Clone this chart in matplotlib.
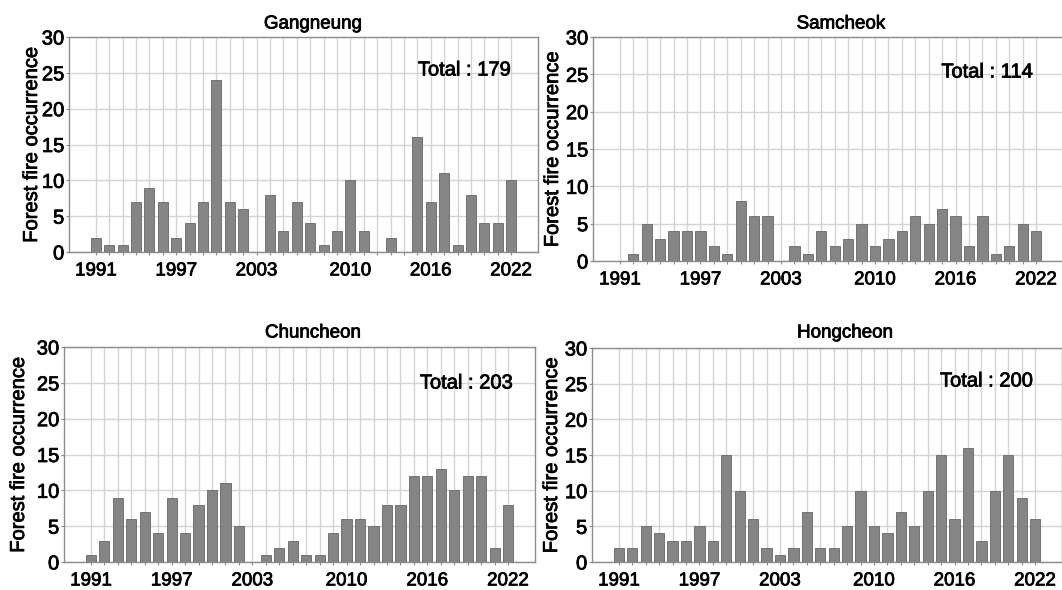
import matplotlib
matplotlib.use("Agg")
import matplotlib.pyplot as plt
import matplotlib.patheffects as pe
from matplotlib.ticker import FixedLocator, FuncFormatter

# ---- data ----
years = list(range(1991, 2023))
gangneung = [2, 1, 1, 7, 9, 7, 2, 4, 7, 24, 7, 6, 0, 8, 3, 7, 4, 1, 3, 10,
             3, 0, 2, 0, 16, 7, 11, 1, 8, 4, 4, 10]
samcheok = [0, 1, 5, 3, 4, 4, 4, 2, 1, 8, 6, 6, 0, 2, 1, 4, 2, 3, 5, 2,
            3, 4, 6, 5, 7, 6, 2, 6, 1, 2, 5, 4]
chuncheon = [1, 3, 9, 6, 7, 4, 9, 4, 8, 10, 11, 5, 0, 1, 2, 3, 1, 1, 4, 6,
             6, 5, 8, 8, 12, 12, 13, 10, 12, 12, 2, 8]
hongcheon = [2, 2, 5, 4, 3, 3, 5, 3, 15, 10, 6, 2, 1, 2, 7, 2, 2, 5, 10, 5,
             4, 7, 5, 10, 15, 6, 16, 3, 10, 15, 9, 6]
titles = ["Gangneung", "Samcheok", "Chuncheon", "Hongcheon"]
labeled_years = [1991, 1997, 2003, 2010, 2016, 2022]
yticks = [0, 5, 10, 15, 20, 25, 30]
ylabel = "Forest fire occurrence"

series = [gangneung, samcheok, chuncheon, hongcheon]

W, H = 1062, 590
plt.rcParams['font.family'] = ['Liberation Sans', 'DejaVu Sans']
fig = plt.figure(figsize=(W / 100, H / 100), dpi=100)

stroke = [pe.withStroke(linewidth=0.55, foreground='black')]

def px_rect(l, r, t, b):
    return [l / W, (H - b) / H, (r - l) / W, (b - t) / H]

rects = [px_rect(69, 538, 37, 252), px_rect(593, 1063, 37, 261),
         px_rect(64, 535, 347, 562), px_rect(592, 1062, 348, 562)]
title_pos = [(313, 24), (841, 24), (313, 333), (845, 333)]
total_pos = [(511, 70), (1033, 72), (513, 383), (1033, 381)]
ylabel_x = [41, 562, 28, 561]

spine_c = '#8c8c8c'
grid_c = '#d4d4d4'

for i, vals in enumerate(series):
    ax = fig.add_axes(rects[i])
    ax.bar(years, vals, width=0.76, color='#858585', edgecolor='#737373',
           linewidth=0.7, zorder=3)
    ax.set_xlim(1989, 2024)
    ax.set_ylim(0, 30)
    ax.xaxis.set_major_locator(FixedLocator(years))
    ax.xaxis.set_major_formatter(FuncFormatter(
        lambda v, p: str(int(round(v))) if int(round(v)) in labeled_years else ""))
    ax.set_yticks(yticks)
    ax.grid(True, color=grid_c, linewidth=1.0, zorder=0)
    ax.set_axisbelow(True)
    for s in ax.spines.values():
        s.set_color(spine_c)
        s.set_linewidth(1.0)
    ax.tick_params(axis='x', length=2.5, color=spine_c, labelsize=13.5, pad=5)
    ax.tick_params(axis='y', length=2.5, color=spine_c, labelsize=14.5, pad=1)
    for lab in ax.get_xticklabels() + ax.get_yticklabels():
        lab.set_path_effects(stroke)
    bb = rects[i]
    yl = ax.set_ylabel(ylabel, fontsize=14.5)
    yl.set_path_effects(stroke)
    ax.yaxis.set_label_coords((ylabel_x[i] / W - bb[0]) / bb[2], 0.5)
    fig.text(title_pos[i][0] / W, 1 - title_pos[i][1] / H, titles[i],
             ha='center', va='center', fontsize=13.5, path_effects=stroke)
    fig.text(total_pos[i][0] / W, 1 - total_pos[i][1] / H,
             "Total : %d" % sum(vals), ha='right', va='center', fontsize=14.5,
             path_effects=stroke)

fig.savefig("out.png", dpi=100)
